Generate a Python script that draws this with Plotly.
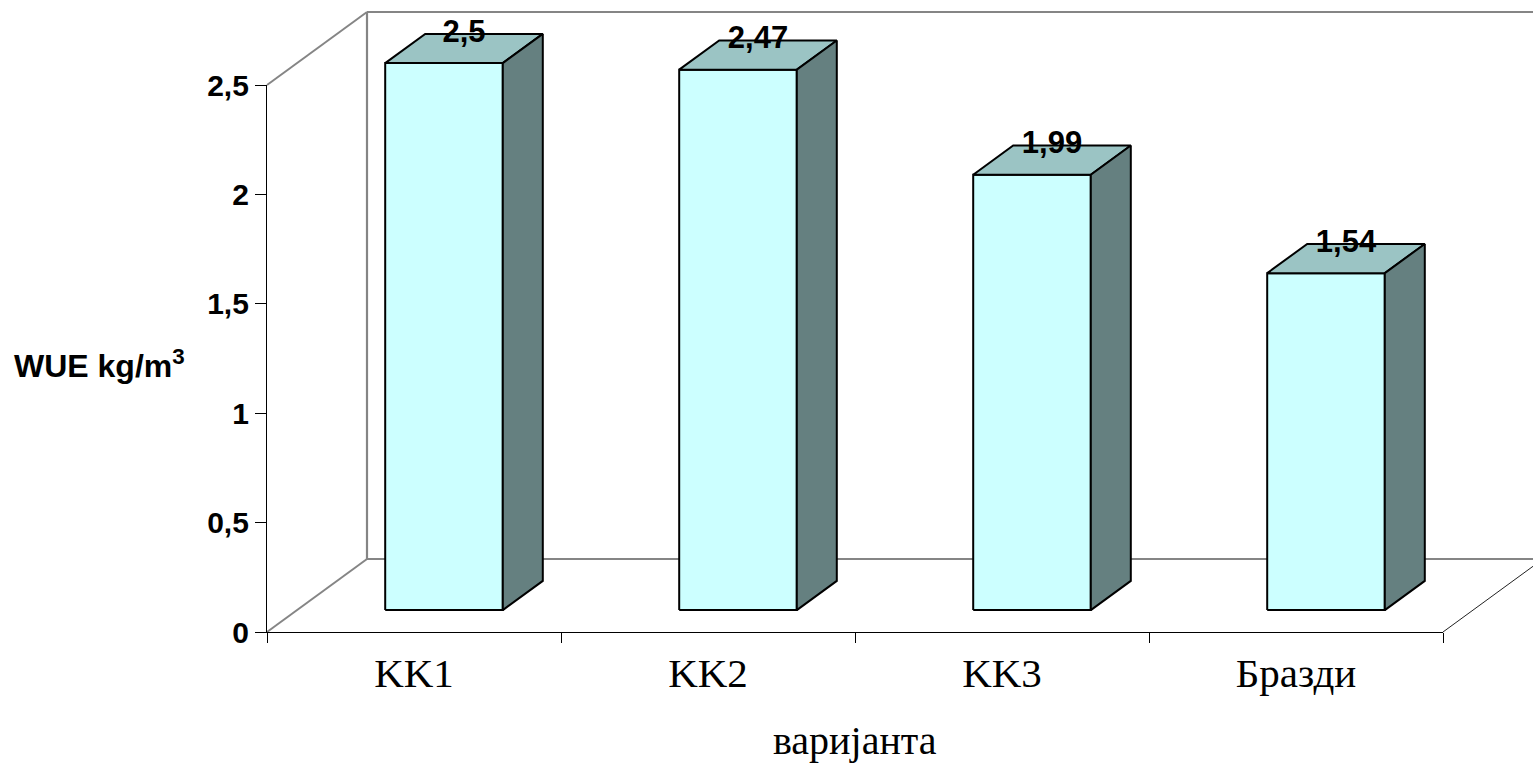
import plotly.graph_objects as go

# ---- data ----
categories = ["KK1", "KK2", "KK3", "Бразди"]
wue_values = [2.5, 2.47, 1.99, 1.54]
value_labels = ["2,5", "2,47", "1,99", "1,54"]
y_tick_values = [0, 0.5, 1, 1.5, 2, 2.5]
y_tick_labels = ["0", "0,5", "1", "1,5", "2", "2,5"]

# ---- page geometry (pixels) ----
FIG_W, FIG_H = 1533, 764
M_L, M_R, M_T, M_B = 250, 0, 4, 124
AXIS_X0, AXIS_X1 = 267, 1443        # front floor edge, left/right
AXIS_Y0, AXIS_Y1 = 632, 85          # value 0 and value Y_MAX on the front axis
Y_MAX = 2.5
DEPTH_PX_X, DEPTH_PX_Y = 100, 73    # oblique offset of the back wall

n_cat = len(categories)
px_per_cat = (AXIS_X1 - AXIS_X0) / n_cat
px_per_unit = (AXIS_Y0 - AXIS_Y1) / Y_MAX
DX = DEPTH_PX_X / px_per_cat        # depth in category units
DY = DEPTH_PX_Y / px_per_unit       # depth in value units

plot_w = FIG_W - M_L - M_R
plot_h = FIG_H - M_T - M_B


def px_to_x(px):
    return -0.5 + (px - AXIS_X0) / px_per_cat


def py_to_y(py):
    return (AXIS_Y0 - py) / px_per_unit


x_range = [px_to_x(M_L), px_to_x(FIG_W - M_R)]
y_range = [py_to_y(FIG_H - M_B), py_to_y(M_T)]

FRONT_FILL = "#CCFFFF"
TOP_FILL = "#9BC4C4"
SIDE_FILL = "#658080"
EDGE = "#000000"
WALL = "#858585"
SANS = "Liberation Sans, Arial"
SERIF = "Liberation Serif, Times New Roman"

fig = go.Figure()


def add_line(xs, ys, color, width):
    fig.add_trace(go.Scatter(x=xs, y=ys, mode="lines",
                             line=dict(color=color, width=width),
                             hoverinfo="skip", showlegend=False))


def add_face(xs, ys, fill):
    fig.add_trace(go.Scatter(x=xs + [xs[0]], y=ys + [ys[0]], mode="lines",
                             fill="toself", fillcolor=fill,
                             line=dict(color=EDGE, width=2),
                             hoverinfo="skip", showlegend=False))


# back wall and floor outline
xl, xr = -0.5, n_cat - 0.5
add_line([xl + DX, xl + DX], [DY, Y_MAX + DY], WALL, 2.2)
add_line([xl + DX, x_range[1]], [Y_MAX + DY, Y_MAX + DY], WALL, 2.2)
add_line([xl + DX, x_range[1]], [DY, DY], WALL, 2.2)
add_line([xl, xl + DX], [Y_MAX, Y_MAX + DY], WALL, 2)
add_line([xl, xl + DX], [0, DY], WALL, 2)
add_line([xr, xr + DX], [0, DY], "#222222", 1)

# 3D bars: front, top and side faces
HALF_W = 0.2
D0, D1 = 0.3, 0.7
for i, v in enumerate(wue_values):
    l0 = i - HALF_W + D0 * DX
    r0 = i + HALF_W + D0 * DX
    l1 = i - HALF_W + D1 * DX
    r1 = i + HALF_W + D1 * DX
    b0, b1 = D0 * DY, D1 * DY
    add_face([l0, r0, r0, l0], [b0, b0, v + b0, v + b0], FRONT_FILL)
    add_face([l0, r0, r1, l1], [v + b0, v + b0, v + b1, v + b1], TOP_FILL)
    add_face([r0, r1, r1, r0], [b0, b1, v + b1, v + b0], SIDE_FILL)

# value labels above each bar
fig.add_trace(go.Scatter(
    x=[i + 0.5 * DX for i in range(n_cat)],
    y=[v + D1 * DY for v in wue_values],
    mode="text", text=value_labels, textposition="middle center",
    textfont=dict(family=SANS, size=31, color="#000000", weight="bold"),
    hoverinfo="skip", showlegend=False, cliponaxis=False))

# anchor trace for the front axes
fig.add_trace(go.Scatter(x=[0], y=[0], xaxis="x2", yaxis="y2", mode="markers",
                         marker=dict(opacity=0), hoverinfo="skip",
                         showlegend=False))

x2_domain = [(AXIS_X0 - M_L) / plot_w, (AXIS_X1 - M_L) / plot_w]
y2_domain = [(FIG_H - M_B - AXIS_Y0) / plot_h, (FIG_H - M_B - AXIS_Y1) / plot_h]

fig.update_layout(
    width=FIG_W, height=FIG_H, autosize=False,
    margin=dict(l=M_L, r=M_R, t=M_T, b=M_B, pad=0, autoexpand=False),
    paper_bgcolor="#FFFFFF", plot_bgcolor="rgba(0,0,0,0)",
    showlegend=False,
    xaxis=dict(range=x_range, visible=False, fixedrange=True),
    yaxis=dict(range=y_range, visible=False, fixedrange=True),
    xaxis2=dict(domain=x2_domain, range=[-0.5, n_cat - 0.5], anchor="y2",
                showgrid=False, zeroline=False, showline=True,
                linecolor="#000000", linewidth=1.3, automargin=False,
                tickmode="array", tickvals=list(range(n_cat)),
                ticktext=categories, ticks="", ticklabelstandoff=5,
                tickfont=dict(family=SERIF, size=41, color="#000000"),
                minor=dict(tickmode="array",
                           tickvals=[k - 0.5 for k in range(n_cat + 1)],
                           ticks="outside", ticklen=10, tickcolor="#000000",
                           tickwidth=1, showgrid=False),
                fixedrange=True),
    yaxis2=dict(domain=y2_domain, range=[0, Y_MAX], anchor="x2",
                showgrid=False, zeroline=False, showline=True,
                linecolor="#000000", linewidth=1.3, automargin=False,
                tickmode="array", tickvals=y_tick_values,
                ticktext=y_tick_labels, ticks="outside", ticklen=11,
                tickcolor="#000000", tickwidth=1,
                tickfont=dict(family=SANS, size=30, color="#000000",
                              weight="bold"),
                fixedrange=True),
    annotations=[
        dict(text="WUE kg/m<sup>3</sup>", xref="paper", yref="paper",
             x=(12 - M_L) / plot_w, y=(FIG_H - M_B - 364) / plot_h,
             xanchor="left", yanchor="middle", showarrow=False,
             font=dict(family=SANS, size=32, color="#000000",
                       weight="bold")),
        dict(text="варијанта", xref="x2", yref="paper",
             x=(n_cat - 1) / 2, y=(FIG_H - M_B - 740) / plot_h,
             xanchor="center", yanchor="middle", showarrow=False,
             font=dict(family=SERIF, size=40, color="#000000")),
    ],
)

fig.write_html("out.html")
